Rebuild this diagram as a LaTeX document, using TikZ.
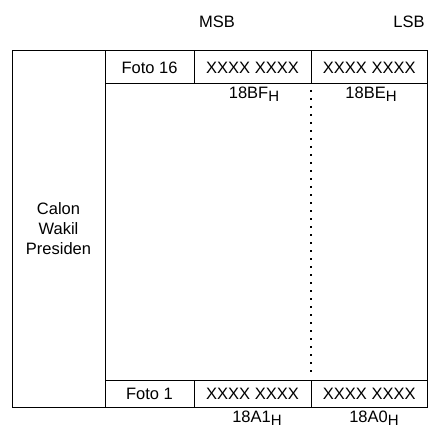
\documentclass[tikz,border=0pt]{standalone}
\usepackage{fontspec}
\setmainfont{Liberation Sans}
\begin{document}
\begin{tikzpicture}[x=1pt,y=-1pt,
  cell/.style={draw, line width=1pt, anchor=north west, inner sep=0pt, outer sep=0pt},
  txt/.style={inner sep=0pt, font=\fontsize{16.5}{20}\selectfont},
  addr/.style={inner sep=0pt, font=\fontsize{16.5}{20}\selectfont}
]
\useasboundingbox (0,0) rectangle (429,430);
\newcommand{\hsub}[1]{#1\raisebox{-3pt}{\fontsize{15}{15}\selectfont H}}
% left column
\node[cell, minimum width=93pt, minimum height=356pt, align=center, font=\fontsize{16.5}{20}\selectfont] (calon) at (12,51) {Calon\\Wakil\\Presiden};
% middle area
\node[cell, minimum width=322.5pt, minimum height=356pt] (area) at (105,51) {};
% top row
\node[cell, minimum width=89pt, minimum height=33pt, txt] (f16) at (105,51) {Foto 16};
\node[cell, minimum width=117pt, minimum height=33pt, txt] (m16) at (194,51) {XXXX XXXX};
\node[cell, minimum width=116.5pt, minimum height=33pt, txt] (l16) at (311,51) {XXXX XXXX};
% bottom row
\node[cell, minimum width=89pt, minimum height=27pt, txt] (f1) at (105,380) {Foto 1};
\node[cell, minimum width=117pt, minimum height=27pt, txt] (m1) at (194,380) {XXXX XXXX};
\node[cell, minimum width=116.5pt, minimum height=27pt, txt] (l1) at (311,380) {XXXX XXXX};
% headers
\node[txt] (msb) at (217,22) {MSB};
\node[txt] (lsb) at (409,22) {LSB};
% addresses
\node[addr] (a1) at (254,94) {\hsub{18BF}};
\node[addr] (a2) at (371,94) {\hsub{18BE}};
\node[addr] (a3) at (257,418) {\hsub{18A1}};
\node[addr] (a4) at (374,418) {\hsub{18A0}};
% dotted divider
\coordinate (dtop) at (311,90);
\coordinate (dbot) at (311,372);
\draw[line width=2pt, dash pattern=on 2pt off 6pt] (dtop) -- (dbot);
\end{tikzpicture}
\end{document}
